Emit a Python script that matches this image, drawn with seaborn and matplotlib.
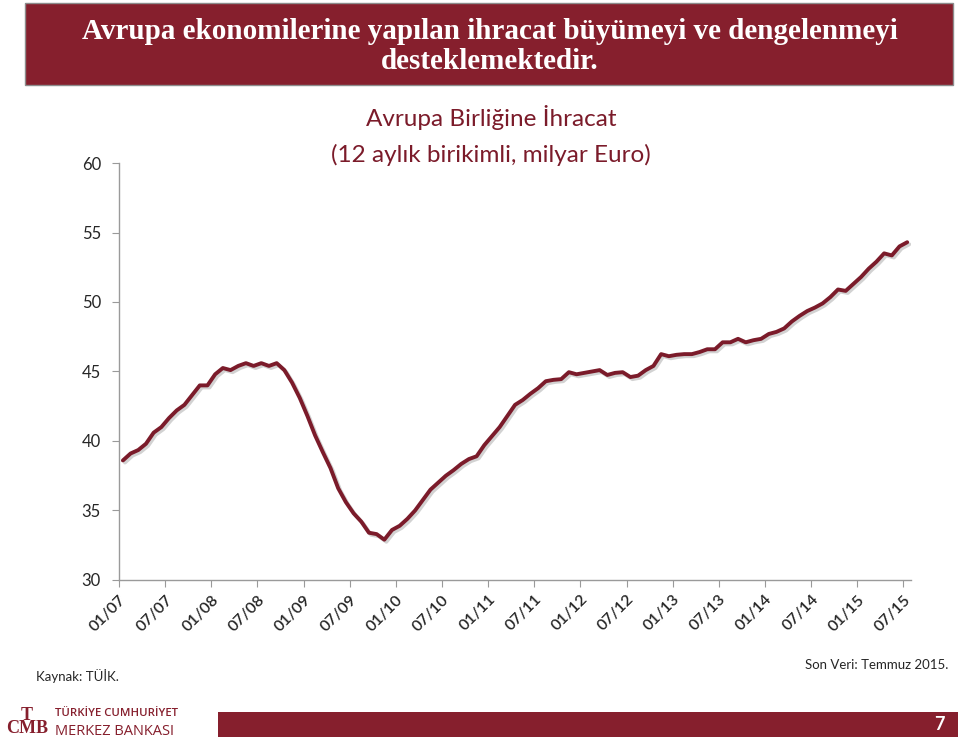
import pandas as pd
import seaborn as sns
import matplotlib.pyplot as plt
from matplotlib import patheffects as pe
from matplotlib.patches import Rectangle

# Monthly exports to the EU, 12-month cumulative, billion Euro (01/2007 - 07/2015)
values = [38.6, 39.1, 39.35, 39.8, 40.6, 41.0, 41.65, 42.2, 42.6, 43.3, 44.0, 44.0,
          44.8, 45.25, 45.1, 45.4, 45.6, 45.4, 45.6, 45.4, 45.6, 45.1, 44.2, 43.1,
          41.8, 40.4, 39.2, 38.05, 36.6, 35.6, 34.8, 34.2, 33.4, 33.3, 32.9, 33.6,
          33.9, 34.4, 35.0, 35.75, 36.5, 37.0, 37.5, 37.9, 38.35, 38.7, 38.9, 39.7,
          40.35, 41.0, 41.8, 42.6, 42.95, 43.4, 43.8, 44.3, 44.4, 44.45, 44.95, 44.8,
          44.9, 45.0, 45.1, 44.75, 44.9, 44.95, 44.6, 44.7, 45.1, 45.4, 46.25, 46.1,
          46.2, 46.25, 46.25, 46.4, 46.6, 46.6, 47.1, 47.1, 47.35, 47.1, 47.25, 47.35,
          47.7, 47.85, 48.1, 48.6, 49.0, 49.35, 49.6, 49.9, 50.35, 50.9, 50.8, 51.3,
          51.8, 52.4, 52.9, 53.5, 53.35, 54.0, 54.3]
tick_labels = ["01/07", "07/07", "01/08", "07/08", "01/09", "07/09", "01/10", "07/10",
               "01/11", "07/11", "01/12", "07/12", "01/13", "07/13", "01/14", "07/14",
               "01/15", "07/15"]
y_ticks = [30, 35, 40, 45, 50, 55, 60]

df = pd.DataFrame({"month": range(len(values)), "value": values})

red = "#861F2D"
line_red = "#7B1B2A"

sns.set_style("white")
plt.rcParams["font.family"] = ["Lato", "DejaVu Sans"]

fig = plt.figure(figsize=(9.6, 7.45), dpi=100)
ax = fig.add_axes([0.124, 0.2215, 0.825, 0.5597])

sns.lineplot(data=df, x="month", y="value", ax=ax, color=line_red, linewidth=2.8,
             path_effects=[pe.SimpleLineShadow(offset=(1.5, -1.5), shadow_color="gray", alpha=0.35),
                           pe.Normal()])

# category axis: ticks sit on the month boundaries
ax.set_xlim(-0.5, 102.5)
ax.set_ylim(30, 60)
ax.set_xticks([k - 0.5 for k in range(0, 103, 6)])
ax.set_xticklabels(tick_labels, rotation=45, ha="right", va="top", rotation_mode="anchor",
                   fontsize=11.5, fontweight="semibold")
ax.set_yticks(y_ticks)
ax.set_yticklabels([str(v) for v in y_ticks], fontsize=12)
ax.set_xlabel("")
ax.set_ylabel("")
for s in ["top", "right"]:
    ax.spines[s].set_visible(False)
for s in ["left", "bottom"]:
    ax.spines[s].set_color("#9a9a9a")
    ax.spines[s].set_linewidth(1)
ax.tick_params(axis="both", which="both", length=5, color="#9a9a9a", direction="out",
               bottom=True, left=True)
ax.tick_params(axis="y", pad=8)
ax.tick_params(axis="x", pad=4)

ax.text(0.47, 1.11, "Avrupa Birliğine İhracat", transform=ax.transAxes, ha="center",
        va="center", fontsize=17.5, color=line_red)
ax.text(0.47, 1.02, "(12 aylık birikimli, milyar Euro)", transform=ax.transAxes, ha="center",
        va="center", fontsize=17.5, color=line_red)

# title banner
fig.patches.append(Rectangle((0.026, 0.886), 0.967, 0.11, transform=fig.transFigure,
                             facecolor=red, edgecolor="#8c8c8c", linewidth=1))
fig.text(0.51, 0.958, "Avrupa ekonomilerine yapılan ihracat büyümeyi ve dengelenmeyi",
         ha="center", va="center", fontsize=21, color="white", family="Liberation Serif",
         fontweight="bold")
fig.text(0.51, 0.917, "desteklemektedir.", ha="center", va="center", fontsize=21,
         color="white", family="Liberation Serif", fontweight="bold")

fig.text(0.038, 0.092, "Kaynak: TÜİK.", fontsize=9.5, va="center", ha="left")
fig.text(0.988, 0.107, "Son Veri: Temmuz 2015.", fontsize=9.5, va="center", ha="right")

# footer
fig.patches.append(Rectangle((0.227, 0.0107), 0.771, 0.0336, transform=fig.transFigure,
                             facecolor=red, edgecolor="none"))
fig.text(0.979, 0.028, "7", color="white", fontsize=13, fontweight="bold", ha="center", va="center")
fig.text(0.028, 0.031, "T\nCMB", color=red, fontsize=13, family="Liberation Serif",
         fontweight="bold", ha="center", va="center", linespacing=0.75)
fig.text(0.057, 0.042, "TÜRKİYE CUMHURİYET", color=red, fontsize=8.2, ha="left", va="center",
         family="Open Sans", fontweight="semibold")
fig.text(0.057, 0.018, "MERKEZ BANKASI", color=red, fontsize=10.5, ha="left", va="center",
         family="Open Sans")

fig.savefig("out.png", dpi=100)
